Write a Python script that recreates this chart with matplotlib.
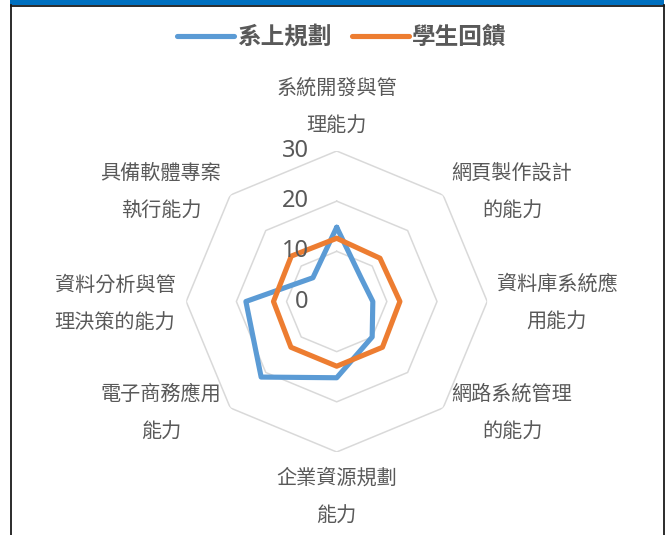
import numpy as np
import matplotlib
matplotlib.use("Agg")
import matplotlib.pyplot as plt
from matplotlib.transforms import offset_copy
from matplotlib.patches import Rectangle
from matplotlib.lines import Line2D

plt.rcParams['font.family'] = ['Noto Sans CJK TC', 'DejaVu Sans']

# --- data -------------------------------------------------------------
categories = [
    ("系統開發與管", "理能力"),
    ("網頁製作設計", "的能力"),
    ("資料庫系統應", "用能力"),
    ("網路系統管理", "的能力"),
    ("企業資源規劃", "能力"),
    ("電子商務應用", "能力"),
    ("資料分析與管", "理決策的能力"),
    ("具備軟體專案", "執行能力"),
]
series_names = ["系上規劃", "學生回饋"]
dept_plan = [14.8, 6.8, 7.2, 10.0, 15.2, 21.3, 18.1, 6.7]
student_feedback = [12.6, 12.2, 12.6, 12.9, 12.9, 12.9, 12.6, 12.8]
r_ticks = [0, 10, 20, 30]

# --- layout -----------------------------------------------------------
W, H, DPI = 669, 535, 100
cx, cy = 336.7, 301.5          # chart centre, px from top-left
R = 150.5                      # px radius of the outer ring
colors = ["#5B9BD5", "#ED7D31"]
text_col = "#595959"
grid_col = "#D9D9D9"

fig = plt.figure(figsize=(W / DPI, H / DPI), dpi=DPI)
fig.patch.set_facecolor("white")

# outer frame and top accent band
fig.add_artist(Rectangle((10 / W, 1 - 5 / H), 654 / W, 5 / H,
                         transform=fig.transFigure, color="#0070C0", lw=0))
frame_kw = dict(transform=fig.transFigure, color="#1a1a1a", lw=1.3)
fig.add_artist(Line2D([10.5 / W, 10.5 / W], [1 - 5 / H, -0.01], **frame_kw))
fig.add_artist(Line2D([663.5 / W, 663.5 / W], [1 - 5 / H, -0.01], **frame_kw))
fig.add_artist(Line2D([10.5 / W, 663.5 / W], [1 - 5.5 / H, 1 - 5.5 / H], **frame_kw))

ax = fig.add_axes([(cx - R) / W, (H - cy - R) / H, 2 * R / W, 2 * R / H],
                  projection="polar")
ax.set_theta_zero_location("N")
ax.set_theta_direction(-1)
ax.set_ylim(0, r_ticks[-1])
ax.grid(False)
ax.spines["polar"].set_visible(False)
ax.set_xticks([])
ax.set_yticks([])
ax.patch.set_alpha(0)

n = len(categories)
theta = np.linspace(0, 2 * np.pi, n, endpoint=False)
theta_c = np.append(theta, theta[0])

# octagonal rings
for rv in r_ticks[1:]:
    ax.plot(theta_c, [rv] * (n + 1), color=grid_col, lw=1.1, zorder=1)

# series
handles = []
for vals, name, col in zip([dept_plan, student_feedback], series_names, colors):
    v = np.append(vals, vals[0])
    h, = ax.plot(theta_c, v, color=col, lw=3.7, solid_joinstyle="round",
                 solid_capstyle="round", label=name, zorder=3)
    handles.append(h)

# radial value labels, to the left of the vertical axis
for rv in r_ticks:
    tr = offset_copy(ax.transData, fig=fig, x=-28, y=0, units="dots")
    ax.text(0, rv, str(rv), transform=tr, ha="right", va="center",
            fontsize=17, color=text_col, family=["Noto Sans", "DejaVu Sans"],
            zorder=4)

# category labels, two lines each, placed around the centre in pixels
label_offsets = [(0, 194.5), (175.3, 109.5), (220.3, -1.5), (175.3, -111.5),
                 (0, -195.5), (-175.7, -111.5), (-221.7, -2.5), (-175.7, 109.5)]
gap = 19
for (l1, l2), (dx, dy) in zip(categories, label_offsets):
    for line, off in ((l1, gap), (l2, -gap)):
        tr = offset_copy(ax.transData, fig=fig, x=dx, y=dy + off, units="dots")
        ax.text(0, 0, line, transform=tr, ha="center", va="center",
                fontsize=14.5, color=text_col, clip_on=False)

# legend
fig.legend(handles=handles, loc="center", bbox_to_anchor=(342 / W, 1 - 37 / H),
           ncol=2, frameon=False, handlelength=2.4, handletextpad=0.15,
           columnspacing=0.85,
           prop=dict(family=['Noto Sans CJK TC', 'DejaVu Sans'], size=17,
                     weight="bold"),
           labelcolor=text_col)

fig.savefig("out.png", dpi=DPI, facecolor="white")
